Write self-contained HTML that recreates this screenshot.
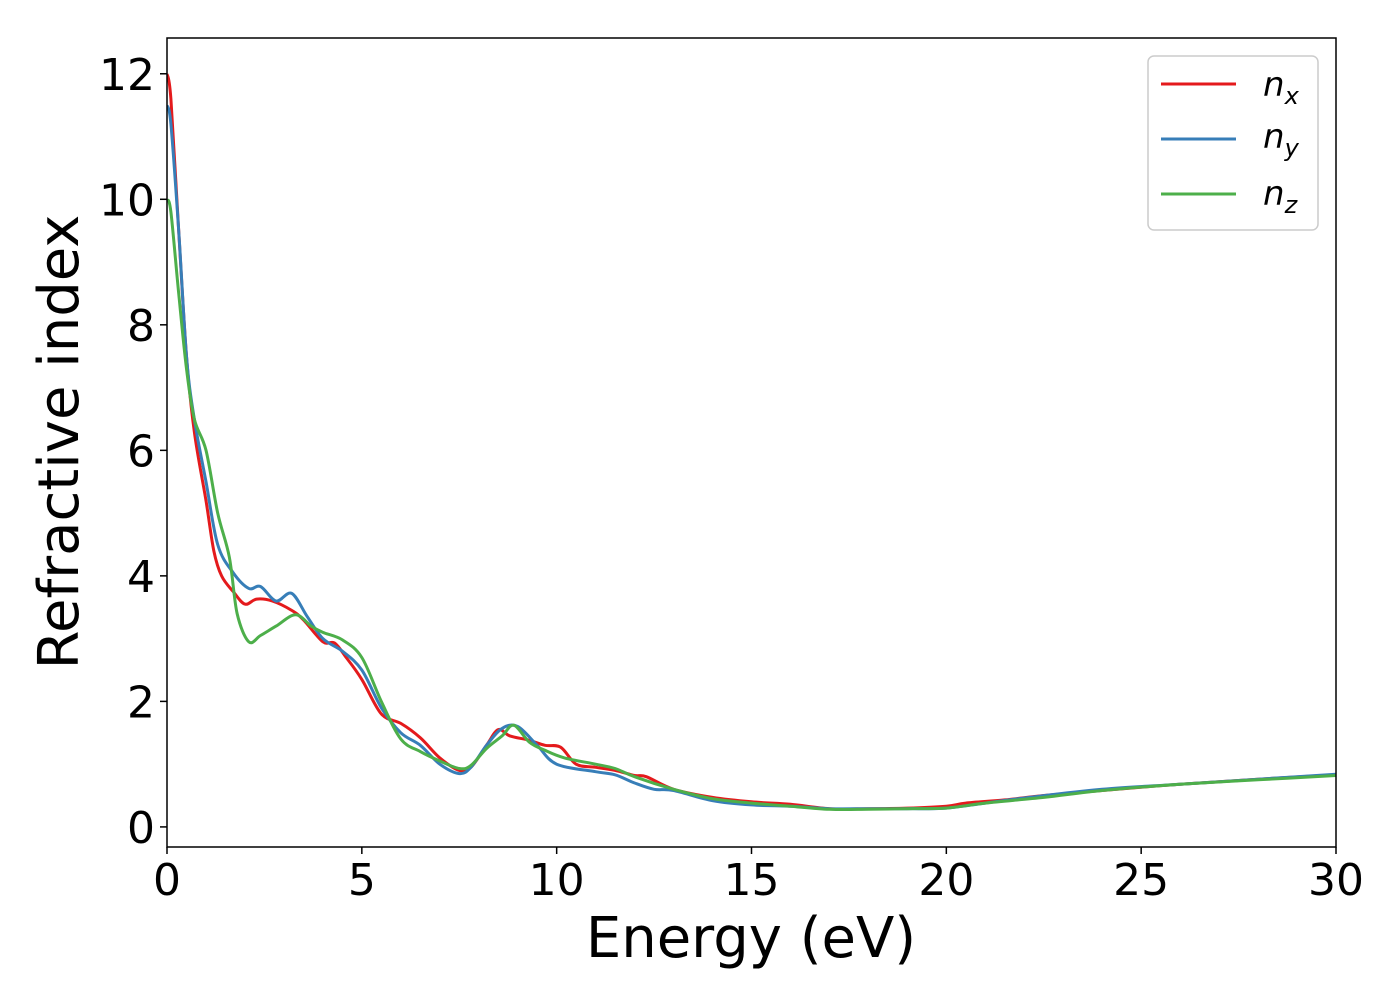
<!DOCTYPE html>
<html><head><meta charset="utf-8"><style>
html,body{margin:0;padding:0;background:#fff;}
svg text{font-family:"DejaVu Sans","Liberation Sans",sans-serif;fill:#000;}
</style></head><body>
<svg id="chart" width="1400" height="1000" viewBox="0 0 1400 1000" xmlns="http://www.w3.org/2000/svg">
<rect x="0" y="0" width="1400" height="1000" fill="#fff"/>
<g id="plot"></g>
<g id="axes"></g>
<text x="751" y="957" font-size="56" text-anchor="middle">Energy (eV)</text>
<text transform="translate(78,442) rotate(-90)" font-size="56" text-anchor="middle">Refractive index</text>
<g>
<rect x="1148" y="56" width="170" height="174" rx="6" fill="#fff" stroke="#ccc" stroke-width="1.5"/>
<g><line x1="1161" y1="84" x2="1236" y2="84" stroke="#e41a1c" stroke-width="3"/><text x="1263" y="96" font-size="34" font-style="italic">n<tspan font-size="24" dy="8">x</tspan></text></g>
<g><line x1="1161" y1="139" x2="1236" y2="139" stroke="#377eb8" stroke-width="3"/><text x="1263" y="148" font-size="34" font-style="italic">n<tspan font-size="24" dy="8">y</tspan></text></g>
<g><line x1="1161" y1="194" x2="1236" y2="194" stroke="#4daf4a" stroke-width="3"/><text x="1263" y="205" font-size="34" font-style="italic">n<tspan font-size="24" dy="8">z</tspan></text></g>
</g>
</svg>
<script>
const xTicks = [0, 5, 10, 15, 20, 25, 30];
const yTicks = [0, 2, 4, 6, 8, 10, 12];
const nxE = [0,0.1,0.3,0.5,0.7,1.0,1.2,1.4,1.7,2.0,2.3,2.7,3.2,3.5,4.0,4.3,4.6,5.0,5.5,6.0,6.5,7.0,7.5,7.8,8.2,8.5,8.8,9.3,9.7,10.1,10.5,11,11.5,12,12.3,13,14,15,16,17,18,19,20,20.5,21.5,22.5,24,26,28,30];
const nxV = [12.0,11.6,9.5,7.5,6.3,5.2,4.4,4.0,3.75,3.55,3.63,3.6,3.45,3.3,2.95,2.93,2.7,2.35,1.8,1.65,1.42,1.1,0.9,0.95,1.3,1.55,1.45,1.38,1.3,1.27,1.0,0.95,0.9,0.82,0.8,0.6,0.47,0.4,0.36,0.29,0.29,0.3,0.33,0.38,0.43,0.5,0.58,0.68,0.76,0.83];
const nyE = [0,0.1,0.3,0.5,0.7,1.0,1.3,1.7,2.1,2.4,2.8,3.2,3.6,4.0,4.5,5.0,5.5,6.0,6.5,7.0,7.5,7.8,8.2,8.6,9.0,9.5,10,11,11.5,12,12.5,13,14,15,16,17,18,19,20,21,22,24,26,28,30];
const nyV = [11.5,11.2,9.5,7.5,6.5,5.5,4.5,4.05,3.8,3.83,3.6,3.72,3.35,3.0,2.8,2.5,1.9,1.5,1.3,1.0,0.85,0.95,1.3,1.57,1.6,1.3,1.0,0.88,0.83,0.7,0.6,0.58,0.42,0.35,0.33,0.29,0.29,0.29,0.3,0.38,0.46,0.6,0.68,0.76,0.84];
const nzE = [0,0.1,0.3,0.5,0.7,1.0,1.3,1.6,1.8,2.1,2.4,2.8,3.3,3.7,4.0,4.5,5.0,5.5,6.0,6.5,7.0,7.5,7.8,8.2,8.6,8.9,9.3,9.7,10.2,11,11.5,12,13,14,15,16,17,18,19,20,21,22.5,24,26,28,30];
const nzV = [10.0,9.8,8.5,7.3,6.5,6.0,5.0,4.3,3.4,2.95,3.05,3.2,3.38,3.2,3.1,2.98,2.7,2.0,1.4,1.2,1.05,0.93,0.98,1.25,1.45,1.62,1.35,1.22,1.1,1.0,0.93,0.8,0.6,0.45,0.38,0.33,0.28,0.28,0.29,0.3,0.38,0.47,0.58,0.68,0.75,0.82];

const X0=167, X1=1336, Y0=847, Y1=38;
const xMin=0, xMax=30, yMin=-0.32, yMax=12.57;
const xs = e => X0 + (e - xMin) / (xMax - xMin) * (X1 - X0);
const ys = v => Y0 - (v - yMin) / (yMax - yMin) * (Y0 - Y1);
const NS = 'http://www.w3.org/2000/svg';
const plot = document.getElementById('plot');
const axes = document.getElementById('axes');

function smoothPath(E, V) {
  const p = E.map((e, i) => [xs(e), ys(V[i])]);
  let d = 'M' + p[0][0].toFixed(1) + ',' + p[0][1].toFixed(1);
  for (let i = 0; i < p.length - 1; i++) {
    const a = p[Math.max(i - 1, 0)], b = p[i], c = p[i + 1], n = p[Math.min(i + 2, p.length - 1)];
    const c1 = [b[0] + (c[0] - a[0]) / 6, b[1] + (c[1] - a[1]) / 6];
    const c2 = [c[0] - (n[0] - b[0]) / 6, c[1] - (n[1] - b[1]) / 6];
    d += ' C' + c1.map(v => v.toFixed(1)).join(',') + ' ' + c2.map(v => v.toFixed(1)).join(',') + ' ' + c.map(v => v.toFixed(1)).join(',');
  }
  return d;
}
function addLine(E, V, color, name) {
  const path = document.createElementNS(NS, 'path');
  path.setAttribute('d', smoothPath(E, V));
  path.setAttribute('fill', 'none');
  path.setAttribute('stroke', color);
  path.setAttribute('stroke-width', '3');
  path.setAttribute('stroke-linejoin', 'round');
  
  
  plot.appendChild(path);
}
const clip = document.createElementNS(NS, 'clipPath');
clip.setAttribute('id', 'clip');
const cr = document.createElementNS(NS, 'rect');
cr.setAttribute('x', X0); cr.setAttribute('y', Y1); cr.setAttribute('width', X1 - X0); cr.setAttribute('height', Y0 - Y1);
clip.appendChild(cr);
document.getElementById('chart').appendChild(clip);
plot.setAttribute('clip-path', 'url(#clip)');
addLine(nxE, nxV, '#e41a1c', 'series-nx');
addLine(nyE, nyV, '#377eb8', 'series-ny');
addLine(nzE, nzV, '#4daf4a', 'series-nz');

const frame = document.createElementNS(NS, 'rect');
frame.setAttribute('x', X0); frame.setAttribute('y', Y1);
frame.setAttribute('width', X1 - X0); frame.setAttribute('height', Y0 - Y1);
frame.setAttribute('fill', 'none'); frame.setAttribute('stroke', '#000'); frame.setAttribute('stroke-width', '1.5');


axes.appendChild(frame);

xTicks.forEach(t => {
  const x = xs(t);
  const l = document.createElementNS(NS, 'line');
  l.setAttribute('x1', x); l.setAttribute('x2', x); l.setAttribute('y1', Y0); l.setAttribute('y2', Y0 + 7);
  l.setAttribute('stroke', '#000'); l.setAttribute('stroke-width', '1.5');
  
  
  axes.appendChild(l);
  const tx = document.createElementNS(NS, 'text');
  tx.setAttribute('x', x); tx.setAttribute('y', Y0 + 48);
  tx.setAttribute('font-size', '44'); tx.setAttribute('text-anchor', 'middle');
  tx.textContent = t;
  
  
  axes.appendChild(tx);
});
yTicks.forEach(t => {
  const y = ys(t);
  const l = document.createElementNS(NS, 'line');
  l.setAttribute('x1', X0 - 7); l.setAttribute('x2', X0); l.setAttribute('y1', y); l.setAttribute('y2', y);
  l.setAttribute('stroke', '#000'); l.setAttribute('stroke-width', '1.5');
  
  
  axes.appendChild(l);
  const tx = document.createElementNS(NS, 'text');
  tx.setAttribute('x', X0 - 12); tx.setAttribute('y', y + 16);
  tx.setAttribute('font-size', '44'); tx.setAttribute('text-anchor', 'end');
  tx.textContent = t;
  
  
  axes.appendChild(tx);
});
</script>
</body></html>
